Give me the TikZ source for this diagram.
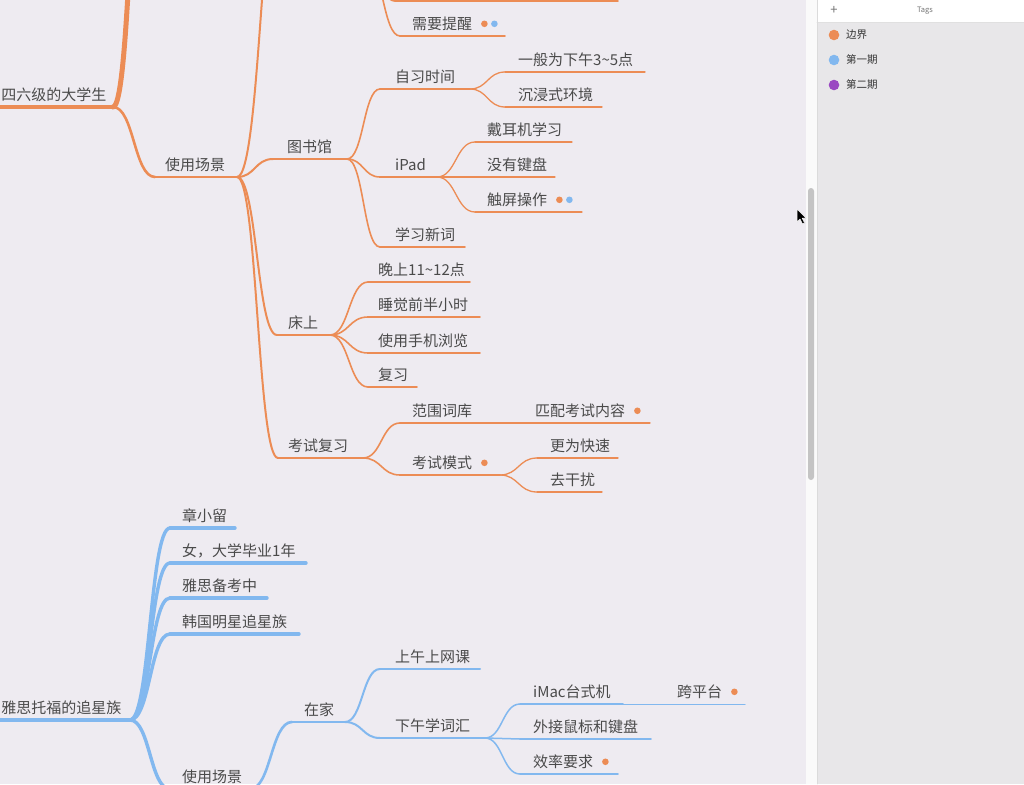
\documentclass[tikz,border=0pt]{standalone}
\usepackage{fontspec}
\newfontfamily\cjk{Noto Sans CJK SC}
\usetikzlibrary{calc}
\definecolor{ocol}{HTML}{EC8C55}
\definecolor{bcol}{HTML}{82B8EF}
\definecolor{pcol}{HTML}{9A48C2}
\definecolor{canvas}{HTML}{EEEBF1}
\definecolor{side}{HTML}{E8E7E9}
\definecolor{tgray}{HTML}{4A4A4A}
\newcommand\mmn[7]{%
  \coordinate (#1-l) at (#2,#4);
  \coordinate (#1-r) at (#3,#4);
  \draw[#6] (#1-l) -- (#1-r);
  \node[txt,anchor=base west] (#1) at (#5,#4-6.5) {#7};}
\newcommand\conn[3]{\draw[#3] let \p1=(#1), \p2=(#2) in (\p1) .. controls ({0.5*\x1+0.5*\x2},\y1) and ({0.5*\x1+0.5*\x2},\y2) .. (\p2);}
\newcommand\tagdot[2]{\fill[#2] ($(#1.east)+(12,0)$) circle (3.3);}
\tikzset{
  txt/.style={font=\cjk\fontsize{15}{15}\selectfont, text=tgray, inner sep=0pt},
  tagtxt/.style={font=\cjk\fontsize{10.5}{10.5}\selectfont, text=black!80, inner sep=0pt},
  o0/.style={draw=ocol, line width=5pt},
  o1/.style={draw=ocol, line width=3.4pt},
  o2/.style={draw=ocol, line width=2.6pt},
  o3/.style={draw=ocol, line width=2pt},
  o4/.style={draw=ocol, line width=1.6pt},
  o5/.style={draw=ocol, line width=1.3pt},
  b1/.style={draw=bcol, line width=4pt},
  b2/.style={draw=bcol, line width=3.4pt},
  b3/.style={draw=bcol, line width=2.6pt},
  b4/.style={draw=bcol, line width=2pt},
  b5/.style={draw=bcol, line width=1.5pt},
  b6/.style={draw=bcol, line width=1pt},
}
\begin{document}
\begin{tikzpicture}[x=1pt,y=-1pt,line cap=round]
\useasboundingbox (0,0) rectangle (1024,784);
\clip (0,0) rectangle (1024,784);
% backgrounds
\fill[canvas] (0,0) rectangle (806,784);
\fill[white!96!gray] (806,0) rectangle (817,784);
\fill[black!23, rounded corners=3pt] (808,188) rectangle (814,480);
\fill[side] (817,0) rectangle (1024,784);
\fill[white] (817,0) rectangle (1024,22);
\draw[black!12, line width=0.8pt] (817,22) -- (1024,22);
\draw[black!14, line width=0.8pt] (817,0) -- (817,784);
% sidebar
\node[font=\cjk\fontsize{13}{13}\selectfont, text=black!55, inner sep=0pt] (plus) at (834,10) {+};
\node[font=\cjk\fontsize{7.5}{7.5}\selectfont, text=black!55, inner sep=0pt] (tags) at (925,11) {Tags};
\fill[ocol] (834,35) circle (5.3);
\node[tagtxt, anchor=west] (tg1) at (846,35) {边界};
\fill[bcol] (834,60) circle (5.3);
\node[tagtxt, anchor=west] (tg2) at (846,60) {第一期};
\fill[pcol] (834,85) circle (5.3);
\node[tagtxt, anchor=west] (tg3) at (846,85) {第二期};
% cursor
\filldraw[fill=black, draw=white, line width=0.5pt, line join=round] (797,209) -- (797,222) -- (800,219) -- (802.5,224) -- (804.5,223) -- (802.2,218.2) -- (806,218) -- cycle;

% ================= orange tree =================
\coordinate (A-l) at (-5,107);
\coordinate (A-r) at (113,107);
\draw[o1] (A-l) -- (A-r);
\node[txt, anchor=base east] (A) at (106.5,100.5) {四六级的大学生};
\coordinate (T1-l) at (150,-250);
\conn{A-r}{T1-l}{o0}

\mmn{B}{155}{237}{177}{165}{o2}{使用场景}
\conn{A-r}{B-l}{o2}
\coordinate (T2-l) at (285,-150);
\conn{B-r}{T2-l}{o3}

\mmn{C}{273}{347}{159}{287}{o3}{图书馆}
\mmn{D}{277}{330}{335}{288}{o3}{床上}
\mmn{E}{278}{363}{458}{288}{o3}{考试复习}
\conn{B-r}{C-l}{o3}
\conn{B-r}{D-l}{o3}
\conn{B-r}{E-l}{o3}

% hidden parent above: 需要提醒
\coordinate (P-r) at (365,-40);
\coordinate (S-l) at (395,1);
\coordinate (S-r) at (618,1);
\draw[o4] (S-l) -- (S-r);
\conn{P-r}{S-l}{o4}
\mmn{N}{400}{505}{36}{412}{o4}{需要提醒}
\conn{P-r}{N-l}{o4}
\tagdot{N}{ocol}
\fill[bcol] ($(N.east)+(22,0)$) circle (3.3);

% 图书馆
\mmn{F}{380}{470}{89}{395}{o4}{自习时间}
\mmn{G}{380}{437}{177}{395}{o4}{iPad}
\mmn{H}{380}{465}{247}{395}{o4}{学习新词}
\conn{C-r}{F-l}{o4}
\conn{C-r}{G-l}{o4}
\conn{C-r}{H-l}{o4}
\mmn{F1}{505}{645}{72}{518}{o5}{一般为下午3\char"7E 5点}
\mmn{F2}{505}{602}{107}{518}{o5}{沉浸式环境}
\conn{F-r}{F1-l}{o5}
\conn{F-r}{F2-l}{o5}
\mmn{G1}{475}{572}{142}{487}{o5}{戴耳机学习}
\mmn{G2}{475}{555}{177}{487}{o5}{没有键盘}
\mmn{G3}{475}{582}{212}{487}{o5}{触屏操作}
\conn{G-r}{G1-l}{o5}
\conn{G-r}{G2-l}{o5}
\conn{G-r}{G3-l}{o5}
\tagdot{G3}{ocol}
\fill[bcol] ($(G3.east)+(22,0)$) circle (3.3);

% 床上
\mmn{D1}{368}{470}{282}{378}{o4}{晚上11\char"7E 12点}
\mmn{D2}{368}{480}{317}{378}{o4}{睡觉前半小时}
\mmn{D3}{368}{480}{353}{378}{o4}{使用手机浏览}
\mmn{D4}{368}{417}{387}{378}{o4}{复习}
\conn{D-r}{D1-l}{o4}
\conn{D-r}{D2-l}{o4}
\conn{D-r}{D3-l}{o4}
\conn{D-r}{D4-l}{o4}

% 考试复习
\mmn{E1}{400}{480}{423}{412}{o4}{范围词库}
\mmn{E2}{400}{500}{475}{412}{o4}{考试模式}
\conn{E-r}{E1-l}{o4}
\conn{E-r}{E2-l}{o4}
\tagdot{E2}{ocol}
\mmn{E11}{520}{650}{423}{535}{o5}{匹配考试内容}
\draw[o5] (E1-r) -- (E11-l);
\tagdot{E11}{ocol}
\mmn{E21}{537}{618}{458}{550}{o5}{更为快速}
\mmn{E22}{537}{602}{492}{550}{o5}{去干扰}
\conn{E2-r}{E21-l}{o5}
\conn{E2-r}{E22-l}{o5}

% ================= blue tree =================
\coordinate (Y-l) at (-5,720);
\coordinate (Y-r) at (130,720);
\draw[b1] (Y-l) -- (Y-r);
\node[txt, anchor=base east] (Y) at (121.5,713.5) {雅思托福的追星族};

\mmn{Y1}{170}{235}{528}{182}{b2}{章小留}
\mmn{Y2}{170}{306}{563}{182}{b2}{女，大学毕业1年}
\mmn{Y3}{170}{267}{598}{182}{b2}{雅思备考中}
\mmn{Y4}{170}{299}{634}{182}{b2}{韩国明星追星族}
\mmn{Y5}{170}{250}{789}{182}{b2}{使用场景}
\conn{Y-r}{Y1-l}{b2}
\conn{Y-r}{Y2-l}{b2}
\conn{Y-r}{Y3-l}{b2}
\conn{Y-r}{Y4-l}{b2}
\conn{Y-r}{Y5-l}{b2}

\mmn{Z}{292}{345}{722}{304}{b3}{在家}
\conn{Y5-r}{Z-l}{b3}
\mmn{Z1}{380}{480}{669}{395}{b4}{上午上网课}
\mmn{Z2}{380}{485}{738}{395}{b4}{下午学词汇}
\conn{Z-r}{Z1-l}{b4}
\conn{Z-r}{Z2-l}{b4}

\mmn{W1}{520}{623}{704}{533}{b5}{iMac台式机}
\mmn{W2}{520}{651}{739}{533}{b5}{外接鼠标和键盘}
\mmn{W3}{520}{618}{774}{533}{b5}{效率要求}
\conn{Z2-r}{W1-l}{b5}
\conn{Z2-r}{W2-l}{b5}
\conn{Z2-r}{W3-l}{b5}
\tagdot{W3}{ocol}
\mmn{W11}{650}{745}{704}{677}{b6}{跨平台}
\draw[b6] (W1-r) -- (W11-l);
\tagdot{W11}{ocol}
\end{tikzpicture}
\end{document}
